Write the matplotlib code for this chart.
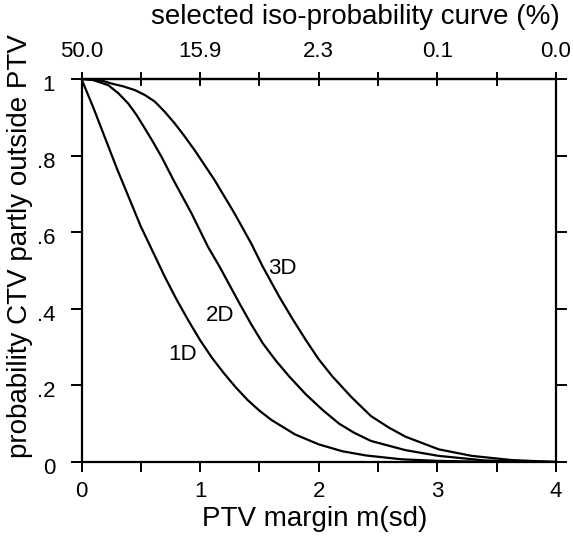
import matplotlib
matplotlib.use("Agg")
import matplotlib.pyplot as plt
from matplotlib.transforms import ScaledTranslation

plt.rcParams['font.family'] = ['Liberation Sans', 'DejaVu Sans']

# Data
m_1d = [0, 0.1, 0.2, 0.3, 0.4, 0.5, 0.6, 0.7, 0.8, 0.9, 1.0, 1.1, 1.2, 1.3, 1.4, 1.5,
        1.6, 1.8, 2.0, 2.2, 2.4, 2.7, 3.0, 3.4, 4.0]
p_1d = [1.0, 0.925, 0.845, 0.765, 0.69, 0.615, 0.55, 0.485, 0.425, 0.37, 0.318, 0.272,
        0.232, 0.195, 0.162, 0.134, 0.11, 0.072, 0.046, 0.028, 0.017, 0.007, 0.003,
        0.0007, 0.0]

m_2d = [0, 0.1, 0.225, 0.31, 0.394, 0.464, 0.534, 0.604, 0.674, 0.786, 0.926, 1.066,
        1.164, 1.332, 1.43, 1.528, 1.64, 1.752, 1.89, 2.032, 2.172, 2.3, 2.44, 2.73,
        3.01, 3.4, 4.0]
p_2d = [1.0, 0.997, 0.984, 0.963, 0.936, 0.906, 0.871, 0.835, 0.797, 0.73, 0.65, 0.562,
        0.51, 0.414, 0.36, 0.31, 0.264, 0.223, 0.177, 0.136, 0.1, 0.076, 0.055, 0.031,
        0.016, 0.004, 0.0]

m_3d = [0, 0.1, 0.18, 0.254, 0.35, 0.45, 0.535, 0.618, 0.7, 0.786, 0.87, 0.954, 1.122,
        1.29, 1.43, 1.528, 1.668, 1.78, 1.892, 2.0, 2.116, 2.28, 2.44, 2.59, 2.732,
        3.012, 3.29, 3.63, 4.0]
p_3d = [1.0, 0.999, 0.995, 0.988, 0.981, 0.971, 0.958, 0.941, 0.915, 0.884, 0.85, 0.814,
        0.736, 0.649, 0.571, 0.51, 0.431, 0.373, 0.318, 0.268, 0.223, 0.168, 0.12,
        0.09, 0.066, 0.033, 0.016, 0.005, 0.0]

curve_labels = ["1D", "2D", "3D"]
label_pos = [(0.85, 0.28), (1.17, 0.383), (1.69, 0.505)]

x_ticks = [0, 1, 2, 3, 4]
x_ticklabels = ["0", "1", "2", "3", "4"]
y_ticks = [0, 0.2, 0.4, 0.6, 0.8, 1.0]
y_ticklabels = ["0", ".2", ".4", ".6", ".8", "1"]
top_ticklabels = ["50.0", "15.9", "2.3", "0.1", "0.0"]

fig = plt.figure(figsize=(5.73, 5.38), dpi=100)
ax = fig.add_axes([81.5 / 573, (538 - 462) / 538, (556 - 81.5) / 573, (462 - 79) / 538])

for mm, pp in [(m_1d, p_1d), (m_2d, p_2d), (m_3d, p_3d)]:
    ax.plot(mm, pp, color='black', lw=1.6, solid_capstyle='round', solid_joinstyle='round')

for lab, (lx, ly) in zip(curve_labels, label_pos):
    ax.text(lx, ly, lab, fontsize=16, ha='center', va='center', color='black')

ax.set_xlim(0, 4)
ax.set_ylim(0, 1)

for s in ax.spines.values():
    s.set_linewidth(1.6)

ax.set_xticks(x_ticks)
ax.set_xticklabels(x_ticklabels, fontsize=16)
ax.set_xticks([0.5, 1.5, 2.5, 3.5], minor=True)
ax.set_yticks(y_ticks)
ax.set_yticklabels(y_ticklabels, fontsize=16)
ax.tick_params(axis='x', which='both', direction='out', length=7, width=1.4, pad=7)
ax.tick_params(axis='y', which='both', direction='out', length=8, width=1.4, pad=11,
               right=True)
offset = ScaledTranslation(0, -4 / 100, fig.dpi_scale_trans)
for lbl in ax.get_yticklabels():
    lbl.set_transform(lbl.get_transform() + offset)

fig.text(315 / 573, 1 - 519 / 538, "PTV margin m(sd)", fontsize=20,
         ha='center', va='center')
fig.text(20 / 573, 1 - 246 / 538, "probability CTV partly outside PTV", fontsize=20,
         ha='center', va='center', rotation=90)

top = ax.secondary_xaxis('top')
top.set_xticks(x_ticks)
top.set_xticklabels(top_ticklabels, fontsize=16)
top.set_xticks([0.5, 1.5, 2.5, 3.5], minor=True)
top.tick_params(axis='x', which='both', direction='inout', length=10, width=1.4, pad=7)
top.spines['top'].set_linewidth(1.6)
fig.text(355 / 573, 1 - 17 / 538, "selected iso-probability curve (%)", fontsize=20,
         ha='center', va='center')

fig.savefig("out.png", dpi=100)
